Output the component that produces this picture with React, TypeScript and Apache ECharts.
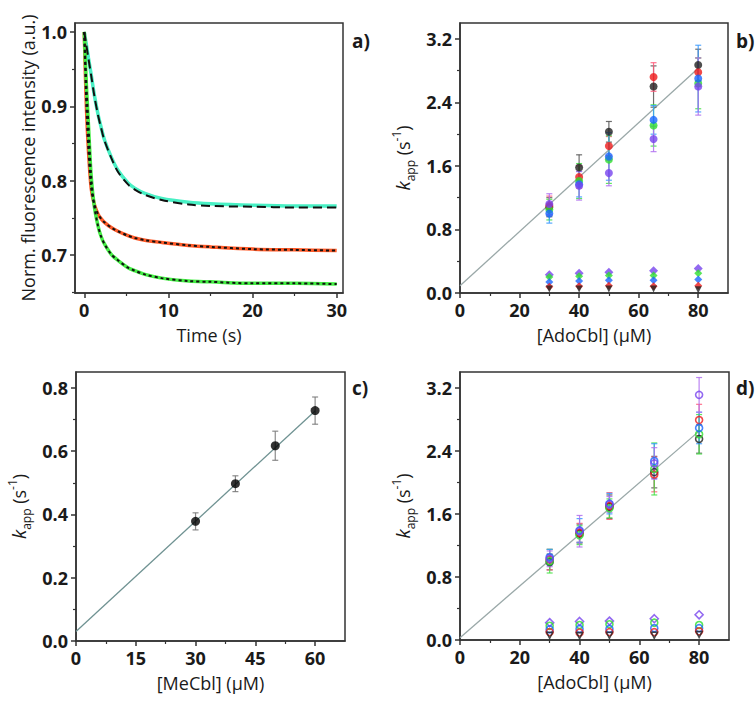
import React, { useEffect, useRef } from "react";
import * as echarts from "echarts";

// ---------- Panel a: fluorescence traces ----------
const timeA = [0, 0.25, 0.5, 0.83, 1.2, 1.64, 2, 2.4, 3.2, 4, 5.2, 6, 7.2, 9.2, 12.4, 15, 20, 25, 30];
const cyanTrace = [1.0, 0.983, 0.965, 0.942, 0.915, 0.889, 0.872, 0.855, 0.832, 0.814, 0.797, 0.79, 0.783, 0.776, 0.771, 0.769, 0.767, 0.766, 0.766];
const cyanFit = [1.0, 0.982, 0.964, 0.941, 0.914, 0.888, 0.871, 0.854, 0.831, 0.812, 0.795, 0.788, 0.781, 0.774, 0.768, 0.766, 0.765, 0.764, 0.764];
const orangeTrace = [1.0, 0.9, 0.84, 0.789, 0.768, 0.755, 0.749, 0.744, 0.737, 0.732, 0.726, 0.723, 0.72, 0.717, 0.713, 0.711, 0.708, 0.707, 0.706];
const greenTrace = [1.0, 0.93, 0.875, 0.805, 0.765, 0.739, 0.725, 0.715, 0.701, 0.693, 0.683, 0.679, 0.674, 0.669, 0.665, 0.664, 0.662, 0.662, 0.661];

// ---------- Panel b: AdoCbl, filled ----------
const concB = [30, 40, 50, 65, 80];
const bBlackHi = [1.08, 1.58, 2.03, 2.6, 2.87];
const bBlackHiErr = [0.12, 0.16, 0.13, 0.26, 0.2];
const bRedHi = [1.1, 1.46, 1.85, 2.72, 2.78];
const bRedHiErr = [0.12, 0.14, 0.12, 0.18, 0.18];
const bGreenHi = [1.05, 1.41, 1.68, 2.11, 2.64];
const bGreenHiErr = [0.13, 0.22, 0.3, 0.26, 0.32];
const bBlueHi = [1.0, 1.37, 1.72, 2.18, 2.7];
const bBlueHiErr = [0.12, 0.16, 0.3, 0.18, 0.42];
const bPurpleHi = [1.12, 1.35, 1.51, 1.94, 2.6];
const bPurpleHiErr = [0.13, 0.18, 0.16, 0.16, 0.36];
const bBlackLo = [0.05, 0.05, 0.05, 0.05, 0.04];
const bRedLo = [0.08, 0.085, 0.09, 0.085, 0.09];
const bBlueLo = [0.14, 0.15, 0.16, 0.16, 0.17];
const bGreenLo = [0.2, 0.21, 0.22, 0.22, 0.25];
const bPurpleLo = [0.23, 0.25, 0.26, 0.28, 0.31];
const fitBx = [0, 80];
const fitBy = [0.09, 2.83];

// ---------- Panel c: MeCbl ----------
const concC = [30, 40, 50, 60];
const kC = [0.378, 0.497, 0.617, 0.728];
const kCErr = [0.027, 0.025, 0.046, 0.043];
const fitCx = [0, 60];
const fitCy = [0.03, 0.727];

// ---------- Panel d: AdoCbl, open ----------
const concD = [30, 40, 50, 65, 80];
const dBlackHi = [0.99, 1.35, 1.69, 2.13, 2.55];
const dBlackHiErr = [0.1, 0.12, 0.15, 0.2, 0.18];
const dRedHi = [1.02, 1.36, 1.7, 2.1, 2.79];
const dRedHiErr = [0.13, 0.12, 0.17, 0.22, 0.2];
const dGreenHi = [1.0, 1.33, 1.67, 2.17, 2.61];
const dGreenHiErr = [0.15, 0.12, 0.12, 0.33, 0.25];
const dBlueHi = [1.05, 1.39, 1.73, 2.27, 2.69];
const dBlueHiErr = [0.1, 0.15, 0.13, 0.22, 0.2];
const dPurpleHi = [1.03, 1.38, 1.72, 2.24, 3.11];
const dPurpleHiErr = [0.1, 0.2, 0.1, 0.2, 0.22];
const dBlackLo = [0.06, 0.055, 0.06, 0.06, 0.07];
const dRedLo = [0.1, 0.095, 0.1, 0.1, 0.11];
const dBlueLo = [0.135, 0.14, 0.14, 0.15, 0.15];
const dGreenLo = [0.18, 0.19, 0.2, 0.22, 0.19];
const dPurpleLo = [0.22, 0.235, 0.24, 0.27, 0.32];
const fitDx = [0, 80];
const fitDy = [0.03, 2.65];

// ---------- Tick values ----------
const aXMajor = [0, 10, 20, 30];
const aXMinor = [5, 15, 25];
const aYMajor = [0.7, 0.8, 0.9, 1.0];
const aYMinor = [0.65, 0.75, 0.85, 0.95];
const bdXMajor = [0, 20, 40, 60, 80];
const bdXMinor = [10, 30, 50, 70];
const bdYMajor = [0, 0.8, 1.6, 2.4, 3.2];
const bdYMinor = [0.4, 1.2, 2.0, 2.8];
const cXMajor = [0, 15, 30, 45, 60];
const cXMinor = [7.5, 22.5, 37.5, 52.5];
const cYMajor = [0, 0.2, 0.4, 0.6, 0.8];
const cYMinor = [0.1, 0.3, 0.5, 0.7];

const FONT = '"Open Sans", "Noto Sans", sans-serif';
const AX = "#333";
const TXT = "#1a1a1a";

const C = {
  black: "#222222",
  red: "#ee1c1c",
  green: "#2ee02e",
  blue: "#1a66ff",
  purple: "#7744ee",
};
const CE = {
  black: "#555555",
  red: "#ff5a7a",
  green: "#44e044",
  blue: "#3a9aff",
  purple: "#b070f0",
};

const kRich = {
  k: { fontStyle: "italic", fontSize: 19, fontFamily: FONT, color: TXT, lineHeight: 26 },
  sub: { fontSize: 12, fontFamily: FONT, color: TXT, lineHeight: 12, verticalAlign: "bottom" },
  n: { fontSize: 18, fontFamily: FONT, color: TXT, lineHeight: 26 },
  sup: { fontSize: 12, fontFamily: FONT, color: TXT, lineHeight: 12, verticalAlign: "top" },
};
const kName = "{k|k}{sub|app}{n| (s}{sup|-1}{n|)}";

function zip(xs: number[], ys: number[]) {
  return xs.map((x, i) => [x, ys[i]]);
}
function zip3(xs: number[], ys: number[], es: number[]) {
  return xs.map((x, i) => [x, ys[i], es[i]]);
}

function axes(
  dim: "x" | "y",
  g: number,
  min: number,
  max: number,
  major: number[],
  minor: number[],
  decimals: number,
  name: string,
  nameGap: number,
  rich?: any
) {
  const pos = dim === "x" ? "bottom" : "left";
  const main = {
    type: "value",
    gridIndex: g,
    min,
    max,
    position: pos,
    name,
    nameLocation: "middle",
    nameGap,
    nameTextStyle: { fontFamily: FONT, fontSize: 18, color: TXT, rich },
    axisLine: { show: true, onZero: false, lineStyle: { color: AX, width: 1.5 } },
    axisTick: { show: true, customValues: major, length: 5, inside: false, lineStyle: { color: AX, width: 1.5 } },
    axisLabel: {
      customValues: major,
      formatter: (v: number) => v.toFixed(decimals),
      fontFamily: FONT,
      fontSize: 18,
      fontWeight: "bold",
      color: TXT,
      margin: 8,
    },
    splitLine: { show: false },
  };
  const mn = {
    type: "value",
    gridIndex: g,
    min,
    max,
    position: pos,
    offset: 0,
    axisLine: { show: false, onZero: false },
    axisTick: { show: true, customValues: minor, length: 3, inside: false, lineStyle: { color: AX, width: 1.2 } },
    axisLabel: { show: false },
    splitLine: { show: false },
  };
  return [main, mn];
}

function errSeries(g: number, data: number[][], color: string, cap = 3) {
  return {
    type: "custom",
    xAxisIndex: 2 * g,
    yAxisIndex: 2 * g,
    data,
    encode: { x: 0, y: 1 },
    z: 2,
    silent: true,
    renderItem: (params: any, api: any) => {
      const x = api.value(0);
      const y = api.value(1);
      const e = api.value(2);
      const top = api.coord([x, y + e]);
      const bot = api.coord([x, y - e]);
      const st = { stroke: color, lineWidth: 1.2, opacity: 0.85 };
      return {
        type: "group",
        children: [
          { type: "line", shape: { x1: top[0], y1: top[1], x2: bot[0], y2: bot[1] }, style: st },
          { type: "line", shape: { x1: top[0] - cap, y1: top[1], x2: top[0] + cap, y2: top[1] }, style: st },
          { type: "line", shape: { x1: bot[0] - cap, y1: bot[1], x2: bot[0] + cap, y2: bot[1] }, style: st },
        ],
      };
    },
  };
}

function scat(g: number, data: number[][], color: string, size: number, open: boolean, symbol = "circle") {
  return {
    type: "scatter",
    xAxisIndex: 2 * g,
    yAxisIndex: 2 * g,
    data,
    symbol,
    symbolSize: size,
    symbolRotate: symbol === "triangle" ? 180 : 0,
    z: 3,
    itemStyle: open
      ? { color: "rgba(255,255,255,0)", borderColor: color, borderWidth: 1.6 }
      : { color, borderWidth: 0 },
  };
}

function fitLine(g: number, xs: number[], ys: number[], color: string) {
  return {
    type: "line",
    xAxisIndex: 2 * g,
    yAxisIndex: 2 * g,
    data: zip(xs, ys),
    showSymbol: false,
    z: 1,
    lineStyle: { color, width: 1.3 },
  };
}

function trace(data: number[], color: string, width: number, type: any, z: number) {
  return {
    type: "line",
    xAxisIndex: 0,
    yAxisIndex: 0,
    data: zip(timeA, data),
    showSymbol: false,
    smooth: 0.3,
    z,
    lineStyle: { color, width, type },
  };
}

export default function App() {
  const ref = useRef<HTMLDivElement>(null);
  useEffect(() => {
    if (!ref.current) return;
    const chart = echarts.init(ref.current, undefined, { renderer: "svg" });

    const grids = [
      { left: 75, top: 23, width: 268, height: 270 },
      { left: 460, top: 23, width: 268, height: 270 },
      { left: 76, top: 372, width: 269, height: 269 },
      { left: 460, top: 372, width: 269, height: 268 },
    ].map((g) => ({ ...g, show: true, borderColor: AX, borderWidth: 1.5, backgroundColor: "transparent" }));

    const xAxis = [
      ...axes("x", 0, -1.1, 30.75, aXMajor, aXMinor, 0, "Time (s)", 33),
      ...axes("x", 1, 0, 90, bdXMajor, bdXMinor, 0, "[AdoCbl] (\u03bcM)", 33),
      ...axes("x", 2, 0, 67.5, cXMajor, cXMinor, 0, "[MeCbl] (\u03bcM)", 33),
      ...axes("x", 3, 0, 90, bdXMajor, bdXMinor, 0, "[AdoCbl] (\u03bcM)", 33),
    ];
    const yAxis = [
      ...axes("y", 0, 0.649, 1.012, aYMajor, aYMinor, 1, "Norm. fluorescence intensity (a.u.)", 35),
      ...axes("y", 1, 0, 3.4, bdYMajor, bdYMinor, 1, kName, 44, kRich),
      ...axes("y", 2, 0, 0.85, cYMajor, cYMinor, 1, kName, 44, kRich),
      ...axes("y", 3, 0, 3.4, bdYMajor, bdYMinor, 1, kName, 44, kRich),
    ];

    const series: any[] = [
      // panel a
      trace(cyanTrace, "#48f0c4", 3.5, "solid", 2),
      trace(orangeTrace, "#ff5a28", 3.5, "solid", 2),
      trace(greenTrace, "#44ee44", 3.5, "solid", 2),
      trace(cyanFit, "#111", 2, [9, 5], 3),
      trace(orangeTrace, "#111", 2, [3, 3], 3),
      trace(greenTrace, "#111", 2, [3, 3], 3),
      // panel b
      fitLine(1, fitBx, fitBy, "#9aa8a8"),
      errSeries(1, zip3(concB, bBlackHi, bBlackHiErr), CE.black),
      errSeries(1, zip3(concB, bRedHi, bRedHiErr), CE.red),
      errSeries(1, zip3(concB, bGreenHi, bGreenHiErr), CE.green),
      errSeries(1, zip3(concB, bBlueHi, bBlueHiErr), CE.blue),
      errSeries(1, zip3(concB, bPurpleHi, bPurpleHiErr), CE.purple),
      scat(1, zip(concB, bBlackHi), C.black, 8, false),
      scat(1, zip(concB, bRedHi), C.red, 8, false),
      scat(1, zip(concB, bGreenHi), C.green, 8, false),
      scat(1, zip(concB, bBlueHi), C.blue, 8, false),
      scat(1, zip(concB, bPurpleHi), C.purple, 8, false),
      scat(1, zip(concB, bPurpleLo), C.purple, 9, false, "diamond"),
      scat(1, zip(concB, bGreenLo), C.green, 8, false, "diamond"),
      scat(1, zip(concB, bBlueLo), C.blue, 8, false, "diamond"),
      scat(1, zip(concB, bRedLo), C.red, 8, false, "diamond"),
      scat(1, zip(concB, bBlackLo), C.black, 7, false, "triangle"),
      // panel c
      fitLine(2, fitCx, fitCy, "#6f9292"),
      errSeries(2, zip3(concC, kC, kCErr), "#777"),
      scat(2, zip(concC, kC), "#000", 9, false),
      // panel d
      fitLine(3, fitDx, fitDy, "#9aa8a8"),
      errSeries(3, zip3(concD, dBlackHi, dBlackHiErr), CE.black),
      errSeries(3, zip3(concD, dRedHi, dRedHiErr), CE.red),
      errSeries(3, zip3(concD, dGreenHi, dGreenHiErr), CE.green),
      errSeries(3, zip3(concD, dBlueHi, dBlueHiErr), CE.blue),
      errSeries(3, zip3(concD, dPurpleHi, dPurpleHiErr), CE.purple),
      scat(3, zip(concD, dBlackHi), C.black, 7, true),
      scat(3, zip(concD, dRedHi), C.red, 7, true),
      scat(3, zip(concD, dGreenHi), C.green, 7, true),
      scat(3, zip(concD, dBlueHi), C.blue, 7, true),
      scat(3, zip(concD, dPurpleHi), C.purple, 7, true),
      scat(3, zip(concD, dPurpleLo), C.purple, 8, true, "diamond"),
      scat(3, zip(concD, dGreenLo), C.green, 7, true),
      scat(3, zip(concD, dBlueLo), C.blue, 7, true),
      scat(3, zip(concD, dRedLo), C.red, 7, true),
      scat(3, zip(concD, dBlackLo), C.black, 6, true, "triangle"),
    ];

    const label = (t: string, x: number, y: number) => ({
      type: "text",
      x,
      y,
      style: { text: t, font: `bold 19px ${FONT}`, fill: TXT },
    });

    chart.setOption({
      animation: false,
      backgroundColor: "#fff",
      grid: grids,
      xAxis,
      yAxis,
      series,
      graphic: [label("a)", 352, 31), label("b)", 736, 31), label("c)", 352, 378), label("d)", 736, 378)],
    });
    return () => chart.dispose();
  }, []);
  return <div ref={ref} style={{ position: "absolute", left: 0, top: 0, width: 755, height: 711 }} />;
}
